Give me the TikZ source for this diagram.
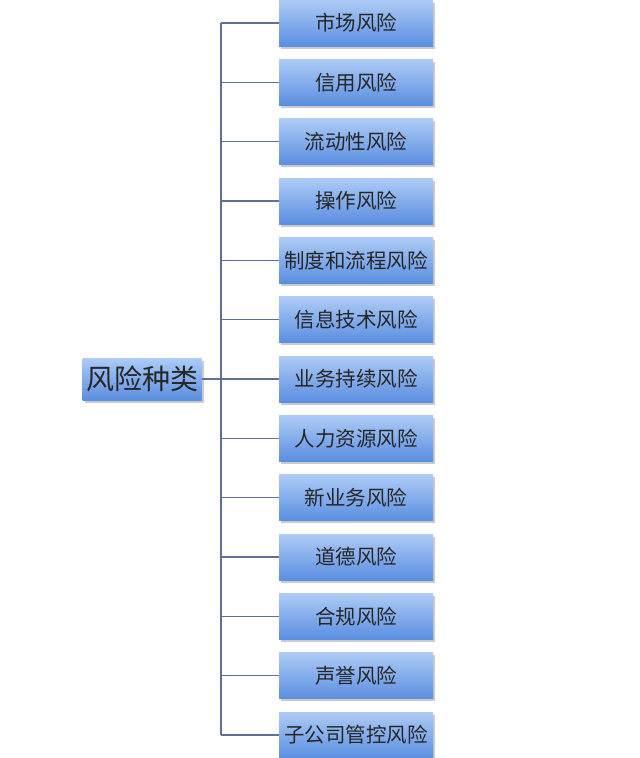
\documentclass[tikz,border=0pt]{standalone}
\usepackage{fontspec}
\newfontfamily\cjk{Noto Sans CJK SC}
\usetikzlibrary{shadows}
\definecolor{topblue}{HTML}{ADCBF6}
\definecolor{botblue}{HTML}{5A8EE0}
\definecolor{linec}{HTML}{5F6F96}
\tikzset{
  riskbox/.style={rectangle, minimum width=154pt, minimum height=46pt, inner sep=0pt,
    top color=topblue, bottom color=botblue, draw=none,
    drop shadow={shadow xshift=2pt, shadow yshift=-2.5pt, fill=gray!70, opacity=0.6},
    font=\cjk\fontsize{20.5}{20.5}\selectfont, text=black!85},
  rootbox/.style={rectangle, minimum width=119pt, minimum height=42pt, inner sep=0pt,
    top color=topblue, bottom color=botblue, draw=none,
    drop shadow={shadow xshift=2pt, shadow yshift=-2.5pt, fill=gray!70, opacity=0.6},
    font=\cjk\fontsize{28}{28}\selectfont, text=black!85},
  conn/.style={draw=linec, line width=1.3pt}
}
\begin{document}
\begin{tikzpicture}[x=1pt,y=-1pt]
\useasboundingbox (0,0) rectangle (640,758);
\node[rootbox] (root) at (142,379) {风险种类};
\coordinate (spineTop) at (221,23);
\coordinate (spineBot) at (221,735);
\coordinate (spineMid) at (221,379);
\foreach \t [count=\i from 0] in {市场风险,信用风险,流动性风险,操作风险,制度和流程风险,信息技术风险,业务持续风险,人力资源风险,新业务风险,道德风险,合规风险,声誉风险,子公司管控风险}{
  \pgfmathsetmacro{\yy}{23+\i*59.333}
  \node[riskbox] (b\i) at (356,\yy) {\t};
  \coordinate (j\i) at (221,\yy);
  \draw[conn] (j\i) -- (b\i.west);
}
\draw[conn] (spineTop) -- (spineBot);
\draw[conn] (root.east) -- (spineMid);
\end{tikzpicture}
\end{document}
